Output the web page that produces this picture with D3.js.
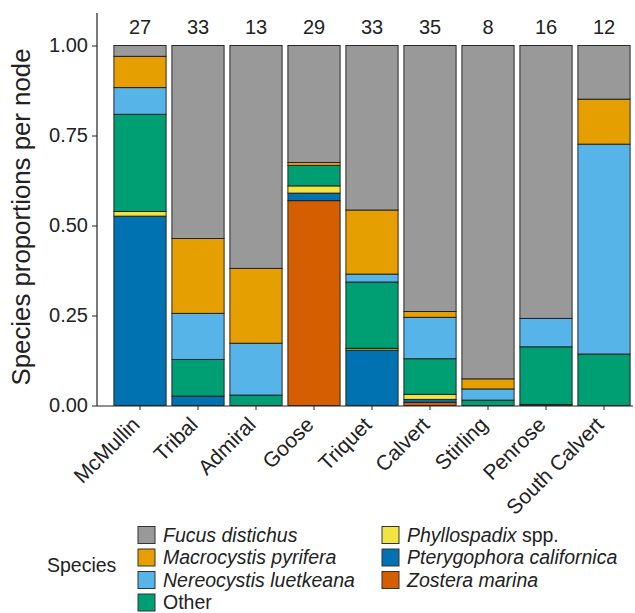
<!DOCTYPE html>
<html>
<head>
<meta charset="utf-8">
<script src="https://cdn.jsdelivr.net/npm/d3@7"></script>
<style>
  html, body { margin: 0; padding: 0; background: #fff; }
  svg text { font-family: "Liberation Sans", Arial, Helvetica, sans-serif; fill: #222; }
</style>
</head>
<body>
<svg id="chart" width="635" height="613"></svg>
<script>
// Nodes (sites) and number of observations per node
const nodes = ["McMullin", "Tribal", "Admiral", "Goose", "Triquet", "Calvert", "Stirling", "Penrose", "South Calvert"];
const counts = [27, 33, 13, 29, 33, 35, 8, 16, 12];

// Species proportions per node (stacked from the bottom up)
const zostera      = [0,     0,     0,     0.569, 0,     0.009, 0,     0,     0];
const pterygophora = [0.526, 0.026, 0,     0.021, 0.154, 0.008, 0,     0.003, 0];
const phyllospadix = [0.013, 0,     0,     0.020, 0.005, 0.014, 0,     0,     0];
const other        = [0.270, 0.102, 0.029, 0.057, 0.184, 0.099, 0.015, 0.160, 0.143];
const nereocystis  = [0.074, 0.128, 0.144, 0,     0.022, 0.115, 0.031, 0.079, 0.583];
const macrocystis  = [0.087, 0.208, 0.208, 0.008, 0.178, 0.016, 0.028, 0,     0.125];
const fucus        = [0.030, 0.536, 0.619, 0.325, 0.457, 0.739, 0.926, 0.758, 0.149];

const yTicks = [0, 0.25, 0.5, 0.75, 1];

// Species keys, stack order bottom -> top
const stackKeys = ["zostera", "pterygophora", "phyllospadix", "other", "nereocystis", "macrocystis", "fucus"];
const colors = {
  fucus: "#999999",
  macrocystis: "#E69F00",
  nereocystis: "#56B4E9",
  other: "#009E73",
  phyllospadix: "#F0E442",
  pterygophora: "#0072B2",
  zostera: "#D55E00"
};
// Legend entries: [key, italic part, plain part]
const legendItems = [
  ["fucus", "Fucus distichus", ""],
  ["macrocystis", "Macrocystis pyrifera", ""],
  ["nereocystis", "Nereocystis luetkeana", ""],
  ["other", "", "Other"],
  ["phyllospadix", "Phyllospadix", " spp."],
  ["pterygophora", "Pterygophora californica", ""],
  ["zostera", "Zostera marina", ""]
];

const rows = nodes.map((n, i) => ({
  node: n,
  zostera: zostera[i], pterygophora: pterygophora[i], phyllospadix: phyllospadix[i],
  other: other[i], nereocystis: nereocystis[i], macrocystis: macrocystis[i], fucus: fucus[i]
}));

const svg = d3.select("#chart");

const axisX = 97, axisY = 406;
const x = d3.scaleBand().domain(nodes).range([111, 633]).paddingInner(0.1).paddingOuter(0.05);
const y = d3.scaleLinear().domain([0, 1]).range([405.5, 45.5]);

const stacked = d3.stack().keys(stackKeys)(rows);

// Bars
const layers = svg.append("g").selectAll("g").data(stacked).join("g")
  .attr("fill", d => colors[d.key]);
layers.selectAll("rect")
  .data(d => d.filter(s => s[1] - s[0] > 0))
  .join("rect")
  .attr("x", d => x(d.data.node))
  .attr("width", x.bandwidth())
  .attr("y", d => y(d[1]))
  .attr("height", d => y(d[0]) - y(d[1]))
  .attr("stroke", "#1a1a1a")
  .attr("stroke-width", 0.9);

// Count labels above bars
svg.append("g").selectAll("text").data(nodes).join("text")
  .attr("x", d => x(d) + x.bandwidth() / 2)
  .attr("y", 34)
  .attr("text-anchor", "middle")
  .attr("font-size", 20)
  .text((d, i) => counts[i]);

// Y axis
const yAxis = svg.append("g").attr("transform", `translate(${axisX},0)`)
  .call(d3.axisLeft(y).tickValues(yTicks).tickFormat(d3.format(".2f")).tickSize(5).tickPadding(4));
yAxis.select(".domain").remove();
yAxis.append("line").attr("x1", 0).attr("x2", 0).attr("y1", 13).attr("y2", axisY).attr("stroke", "#222").attr("stroke-width", 1.2);
yAxis.selectAll(".tick line").attr("stroke", "#222");
yAxis.selectAll(".tick text").attr("font-size", 20).style("font-family", "'Liberation Sans', Arial, sans-serif").attr("fill", "#222");

// X axis
const xAxis = svg.append("g").attr("transform", `translate(0,${axisY})`)
  .call(d3.axisBottom(x).tickSize(4).tickFormat(""));
xAxis.select(".domain").remove();
xAxis.append("line").attr("x1", axisX).attr("x2", 633).attr("y1", 0).attr("y2", 0).attr("stroke", "#222").attr("stroke-width", 1.2);
xAxis.selectAll(".tick line").attr("stroke", "#222");

svg.append("g").selectAll("text").data(nodes).join("text")
  .attr("transform", d => `translate(${x(d) + x.bandwidth() / 2 + 1},${axisY + 20}) rotate(-45)`)
  .attr("text-anchor", "end")
  .attr("font-size", 21)
  .text(d => d);

// Y axis title
svg.append("text")
  .attr("transform", "translate(30,217) rotate(-90)")
  .attr("text-anchor", "middle")
  .attr("font-size", 25.8)
  .text("Species proportions per node");

// Legend
const legend = svg.append("g");
legend.append("text").attr("x", 47).attr("y", 572).attr("font-size", 19.5).text("Species");
const colX = [138, 382], rowY0 = 535, rowStep = 22.5, key = 17;
legendItems.forEach((it, i) => {
  const col = i < 4 ? 0 : 1, row = i < 4 ? i : i - 4;
  const cy = rowY0 + row * rowStep;
  const g = legend.append("g");
  g.append("rect").attr("x", colX[col]).attr("y", cy - key / 2).attr("width", key).attr("height", key)
    .attr("fill", colors[it[0]]).attr("stroke", "#333").attr("stroke-width", 1);
  const t = g.append("text").attr("x", colX[col] + 25).attr("y", cy + 6.5).attr("font-size", 19.5);
  if (it[1]) t.append("tspan").attr("font-style", "italic").text(it[1]);
  if (it[2]) t.append("tspan").text(it[2]);
});
</script>
</body>
</html>
